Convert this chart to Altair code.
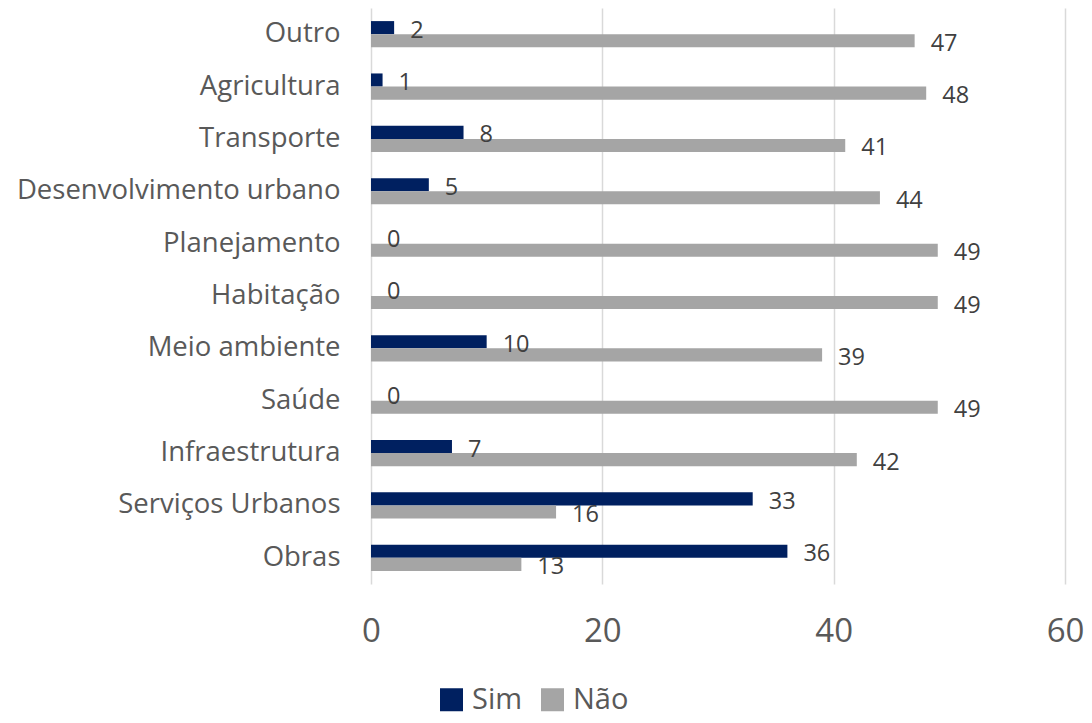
import altair as alt
import pandas as pd

categories = ["Outro", "Agricultura", "Transporte", "Desenvolvimento urbano", "Planejamento",
              "Habitação", "Meio ambiente", "Saúde", "Infraestrutura", "Serviços Urbanos", "Obras"]
sim = [2, 1, 8, 5, 0, 0, 10, 0, 7, 33, 36]
nao = [47, 48, 41, 44, 49, 49, 39, 49, 42, 16, 13]
series = ["Sim", "Não"]
colors = ["#002060", "#A5A5A5"]

rows = []
for c, s, n in zip(categories, sim, nao):
    rows.append({"cat": c, "serie": "Sim", "v": s})
    rows.append({"cat": c, "serie": "Não", "v": n})
df = pd.DataFrame(rows)

FONT = "Open Sans"

y = alt.Y("cat:N", sort=categories, title=None,
          scale=alt.Scale(paddingInner=0.5, paddingOuter=0.25),
          axis=alt.Axis(labelFontSize=27.5, labelColor="#595959", labelFont=FONT,
                        ticks=False, domain=False, labelPadding=31, grid=False,
                        labelLimit=0, minExtent=363, maxExtent=363))
yoff = alt.YOffset("serie:N", sort=series, scale=alt.Scale(paddingInner=0, paddingOuter=0))
x = alt.X("v:Q", title=None,
          scale=alt.Scale(domain=[0, 60]),
          axis=alt.Axis(values=[0, 20, 40, 60], labelFontSize=33, labelColor="#595959",
                        labelFont=FONT, ticks=False, domain=False, grid=True, labelFlush=False,
                        gridColor="#D9D9D9", gridWidth=1.5, labelPadding=31))
color = alt.Color("serie:N", sort=series,
                  scale=alt.Scale(domain=series, range=colors),
                  legend=alt.Legend(title=None, orient="none", direction="horizontal",
                                    legendX=66, legendY=677,
                                    symbolType="square", symbolSize=529, symbolStrokeWidth=0,
                                    labelFontSize=29, labelColor="#595959", labelFont=FONT,
                                    columnPadding=15, labelOffset=6))

bars = alt.Chart(df).mark_bar().encode(y=y, yOffset=yoff, x=x, color=color)
labels = alt.Chart(df).mark_text(align="left", baseline="middle", dx=16, dy=3,
                                 fontSize=23.5, font=FONT, color="#404040").encode(
    y=y, yOffset=yoff, x=x, text=alt.Text("v:Q"))

chart = (bars + labels).properties(
    width=1076, height=707, padding={"left": 0, "top": 0, "right": 0, "bottom": 67},
    autosize=alt.AutoSizeParams(type="fit", contains="padding"),
).configure_view(stroke=None)
chart.save("out.html", embed_options={"renderer": "svg", "actions": False})
